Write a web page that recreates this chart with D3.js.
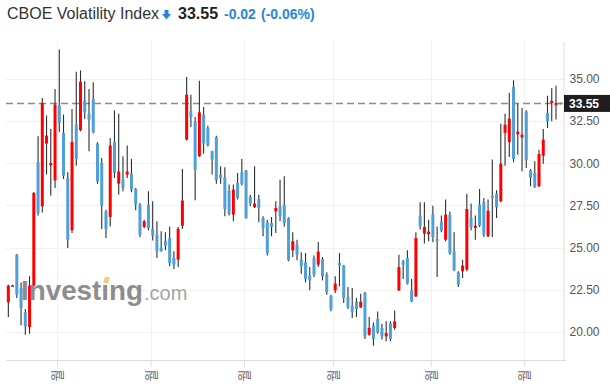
<!DOCTYPE html>
<html>
<head>
<meta charset="utf-8">
<script src="https://cdn.jsdelivr.net/npm/d3@7"></script>
<style>
  html, body { margin: 0; padding: 0; background: #fff; }
  svg { display: block; font-family: "Liberation Sans", Arial, sans-serif; }
</style>
</head>
<body>
<div id="chart"></div>
<script>
// daily candles (red = up, blue = down)
const opens = [21.76,22.75,24.58,22.61,21.17,20.30,22.75,30.08,27.45,31.17,29.88,28.99,33.42,31.80,29.13,26.03,32.29,31.96,33.72,32.94,
  33.81,31.17,30.02,27.15,26.82,31.26,28.79,29.03,29.33,29.39,28.48,27.55,26.23,27.55,26.11,25.77,24.98,25.41,25.57,24.39,
  24.29,26.30,31.40,33.08,32.49,30.42,32.89,32.09,30.71,31.56,29.33,29.17,28.38,26.96,28.83,29.47,29.57,28.00,27.41,27.89,
  26.76,26.50,26.46,27.15,27.45,27.55,26.76,24.84,25.18,24.29,24.13,23.34,24.39,23.99,24.33,23.40,22.15,22.47,24.09,23.93,
  22.08,21.56,21.80,21.46,22.31,19.84,20.38,20.77,20.24,19.74,20.53,20.24,22.47,24.19,24.39,22.47,22.11,26.90,25.83,25.79,
  26.96,25.51,26.54,25.47,26.96,24.78,23.54,23.60,23.70,26.76,26.17,27.55,27.71,25.67,28.08,28.20,27.75,31.80,31.25,34.53,
  31.72,31.54,33.08,29.59,29.43,28.64,30.45,32.98,33.58,33.45,33.57];
const highs = [22.80,22.80,24.62,22.94,21.36,23.30,28.30,31.60,33.87,32.83,32.04,34.41,36.74,32.89,29.47,33.22,35.42,35.51,34.86,34.41,
  34.80,31.26,30.32,27.25,31.50,33.14,32.94,30.42,31.05,30.26,28.54,27.65,26.65,28.34,27.75,26.56,25.97,25.91,26.26,24.78,
  26.23,29.66,35.12,34.07,32.75,34.90,33.34,32.23,30.75,31.64,29.82,29.76,28.74,28.74,29.43,30.26,29.60,28.14,29.82,28.14,
  26.86,26.66,26.82,27.75,29.03,29.23,26.80,25.91,25.47,24.72,24.68,23.85,24.53,25.34,24.45,23.54,22.21,23.30,24.68,23.97,
  22.67,22.61,22.02,22.27,22.39,20.89,20.57,21.21,20.49,20.63,20.63,21.28,24.58,24.29,24.84,23.14,25.91,27.69,27.69,26.66,
  27.49,26.26,26.90,27.85,27.15,25.91,23.60,24.29,28.20,27.61,26.90,28.48,27.94,27.85,30.22,28.40,32.35,32.94,34.17,34.92,
  33.54,33.28,33.14,29.66,30.12,30.81,32.04,34.01,34.47,34.60,33.60];
const lows = [20.89,22.70,22.02,20.40,19.84,19.90,22.70,26.90,27.09,29.33,28.08,28.54,31.84,29.07,24.98,25.87,29.86,31.90,32.63,30.71,
  31.76,28.79,26.11,25.57,26.26,29.13,28.14,28.34,29.13,28.28,27.21,25.63,26.15,26.03,25.43,24.39,24.75,24.84,23.89,23.74,
  23.85,26.11,31.35,32.15,27.81,30.38,30.57,31.00,29.33,28.79,28.79,26.86,26.90,26.56,27.85,28.68,26.72,27.45,27.35,26.50,
  25.67,24.53,25.67,25.87,26.56,26.26,24.19,24.45,24.25,23.46,22.94,22.47,23.26,23.85,23.06,22.21,21.23,22.31,22.71,21.72,
  21.36,20.83,20.89,21.42,19.58,19.78,19.19,19.90,19.55,19.45,19.45,20.14,22.41,23.14,22.81,21.76,22.08,26.07,25.24,25.38,
  25.32,23.26,25.91,25.38,24.58,23.60,22.67,23.20,23.60,26.03,25.47,26.23,25.63,25.63,25.63,26.76,27.69,29.86,30.38,30.06,
  30.51,29.53,29.72,28.64,28.54,28.60,29.98,32.09,32.49,32.59,33.50];
const closes = [22.75,22.75,22.21,21.42,20.34,22.75,28.24,27.06,33.58,31.64,30.02,33.48,32.39,29.27,25.47,31.26,30.26,34.84,33.02,32.59,
  31.84,28.93,27.49,26.11,31.05,29.43,29.51,28.54,29.51,28.44,27.55,25.77,26.56,26.17,25.71,24.78,24.78,25.12,24.09,23.99,
  26.11,27.79,34.07,32.73,29.62,33.02,31.17,31.05,30.22,28.99,29.13,27.29,27.00,28.44,27.94,28.79,26.76,27.61,27.61,27.35,
  26.17,24.68,26.23,27.35,26.86,26.46,24.25,25.38,24.58,23.89,23.14,23.06,23.40,24.76,23.30,22.35,21.36,22.87,23.93,22.02,
  21.48,21.17,21.36,21.80,19.74,20.24,19.58,19.98,19.74,19.94,19.58,20.63,23.85,23.99,22.87,21.82,25.57,26.26,26.23,25.95,
  25.63,25.38,26.01,26.96,24.68,23.66,22.81,23.93,27.29,26.23,26.30,26.30,25.77,27.19,27.93,27.41,29.98,32.29,32.65,30.26,
  31.88,31.70,30.18,29.13,28.60,30.55,31.40,32.49,33.70,33.57,33.55];

// first trading day (index) of each month and its label
const monthStarts = [12, 34, 56, 77, 100, 122];
const monthLabels = ["월", "월", "월", "월", "월", "월"];
const yTicks = [20, 22.5, 25, 27.5, 30, 32.5, 35];

const lastPrice = 33.55;
const titleName = "CBOE Volatility Index";
const titlePrice = "33.55";
const titleChange = "-0.02";
const titlePct = "(-0.06%)";

const W = 610, H = 389;
const upColor = "#ff0000", downColor = "#4f9fd8", wickColor = "#2b2f33";

const candles = opens.map((o, i) => ({ i, o, h: highs[i], l: lows[i], c: closes[i] }));

const svg = d3.select("#chart").append("svg")
  .attr("width", W).attr("height", H);

svg.append("rect").attr("width", W).attr("height", H).attr("fill", "#fff");

const x = d3.scaleLinear().domain([-0.55, candles.length - 0.35]).range([6, 563]);
const y = d3.scaleLinear().domain([18.34, 37.25]).range([360, 41]);

// grid
const grid = svg.append("g");
grid.selectAll("line.h").data(yTicks).enter().append("line")
  .attr("x1", 6).attr("x2", 563)
  .attr("y1", d => Math.round(y(d)) + 0.5).attr("y2", d => Math.round(y(d)) + 0.5)
  .attr("stroke", "#f1f1f1");
grid.selectAll("line.v").data(monthStarts).enter().append("line")
  .attr("x1", d => Math.round(x(d - 0.5)) + 0.5).attr("x2", d => Math.round(x(d - 0.5)) + 0.5)
  .attr("y1", 41).attr("y2", 360)
  .attr("stroke", "#f1f1f1");

// axes
const yAxis = svg.append("g")
  .attr("transform", "translate(563.5,0)")
  .call(d3.axisRight(y).tickValues(yTicks).tickSize(0).tickPadding(6).tickFormat(d3.format(".2f")));
yAxis.select(".domain").attr("stroke", "#dcdcdc");
yAxis.selectAll("text").attr("fill", "#555").style("font-size", "12px")
  .style("font-family", "'Liberation Sans', Arial, sans-serif");

const xAxis = svg.append("g")
  .attr("transform", "translate(0,360.5)")
  .call(d3.axisBottom(x).tickValues(monthStarts.map(d => d - 0.5)).tickSize(6)
    .tickFormat((d, k) => monthLabels[k]));
xAxis.select(".domain").attr("d", "M6,0H566").attr("stroke", "#dcdcdc");
xAxis.selectAll(".tick line").attr("stroke", "#dcdcdc");
xAxis.selectAll("text")
  .attr("y", 0).attr("x", -9).attr("dy", "0.35em")
  .attr("transform", "rotate(-90)")
  .style("text-anchor", "end")
  .style("font-size", "13px")
  .style("font-family", "'Noto Sans CJK KR', sans-serif")
  .attr("fill", "#666");

// current price line
svg.append("line")
  .attr("x1", 6).attr("x2", 563)
  .attr("y1", y(lastPrice)).attr("y2", y(lastPrice))
  .attr("stroke", "#8c8c8c").attr("stroke-width", 1.5)
  .attr("stroke-dasharray", "7,4");

// candles
const cg = svg.append("g");
cg.selectAll("line.wick").data(candles).enter().append("line")
  .attr("x1", d => x(d.i)).attr("x2", d => x(d.i))
  .attr("y1", d => y(d.h)).attr("y2", d => y(d.l))
  .attr("stroke", wickColor).attr("stroke-width", 1.1);
cg.selectAll("rect.body").data(candles).enter().append("rect")
  .attr("x", d => x(d.i) - 1.5)
  .attr("width", 3)
  .attr("y", d => y(Math.max(d.o, d.c)))
  .attr("height", d => Math.max(1.2, Math.abs(y(d.o) - y(d.c))))
  .attr("fill", d => d.c > d.o ? upColor : d.c < d.o ? downColor : "#444");

// watermark
const wm = svg.append("g").attr("opacity", 0.85);
const wt = wm.append("text")
  .attr("x", 21).attr("y", 300)
  .attr("fill", "#7a7a7a")
  .attr("textLength", 122).attr("lengthAdjust", "spacingAndGlyphs")
  .style("font-size", "28px").style("font-weight", "bold")
  .text("Invest\u0131ng");
wm.append("text")
  .attr("x", 144).attr("y", 300)
  .attr("fill", "#959595")
  .style("font-size", "20px")
  .text(".com");
const ip = wt.node().getStartPositionOfChar(6);
wm.append("path")
  .attr("d", `M${ip.x + 2},${283} L${ip.x + 7},${283} L${ip.x + 8.5},${277} L${ip.x + 3.5},${277} Z`)
  .attr("fill", "#f7c064");

// price label on axis
svg.append("rect")
  .attr("x", 564).attr("y", y(lastPrice) - 8.5)
  .attr("width", 46).attr("height", 17)
  .attr("fill", "#1e1e1e");
svg.append("text")
  .attr("x", 569).attr("y", y(lastPrice)).attr("dy", "0.35em")
  .attr("fill", "#fff").style("font-size", "12px").style("font-weight", "bold")
  .text(lastPrice.toFixed(2));

// title
const title = svg.append("g");
title.append("text").attr("x", 7).attr("y", 19.3)
  .attr("fill", "#333").style("font-size", "16px").text(titleName);
title.append("path")
  .attr("d", "M164.5,10 H168.5 V14 H171 L166.5,19.5 L162,14 H164.5 Z")
  .attr("fill", "#2a85d6");
title.append("text").attr("x", 178).attr("y", 19.3)
  .attr("fill", "#222").style("font-size", "16px").style("font-weight", "bold").text(titlePrice);
title.append("text").attr("x", 224).attr("y", 19.3)
  .attr("fill", "#2a85d6").style("font-size", "14px").style("font-weight", "bold").text(titleChange);
title.append("text").attr("x", 261).attr("y", 19.3)
  .attr("fill", "#2a85d6").style("font-size", "14px").style("font-weight", "bold").text(titlePct);
</script>
</body>
</html>
